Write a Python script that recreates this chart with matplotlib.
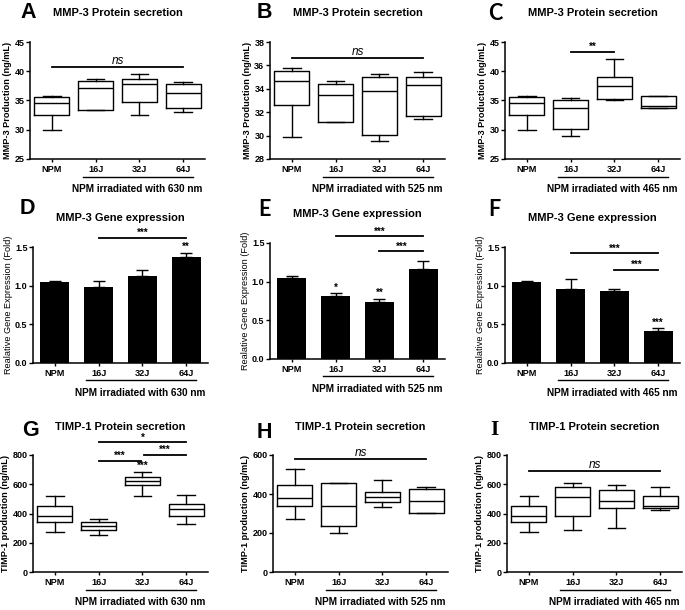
import matplotlib
matplotlib.use("Agg")
import matplotlib.pyplot as plt
import matplotlib.transforms as mtransforms

plt.rcParams['font.family'] = ['Liberation Sans', 'DejaVu Sans']

groups = ['NPM', '16J', '32J', '64J']
wavelengths = ['630', '525', '465']

# box stats per group: [whislo, q1, med, q3, whishi]
mmp3_630 = [[29.9, 32.6, 34.6, 35.6, 35.8], [33.4, 33.4, 37.2, 38.3, 38.7],
            [32.6, 34.7, 37.8, 38.7, 39.5], [33.1, 33.7, 36.3, 37.8, 38.1]]
mmp3_525 = [[29.9, 32.6, 34.7, 35.55, 35.8], [31.15, 31.2, 33.5, 34.45, 34.7],
            [29.5, 30.05, 33.85, 35.0, 35.3], [31.45, 31.65, 34.3, 35.05, 35.45]]
mmp3_465 = [[29.9, 32.6, 34.6, 35.6, 35.8], [29.0, 30.1, 33.8, 35.1, 35.5],
            [35.0, 35.2, 37.4, 39.1, 42.1], [33.7, 33.7, 34.0, 35.8, 35.8]]
timp1_630 = [[273, 341, 380, 448, 523], [252, 284, 316, 343, 361],
             [523, 598, 625, 652, 686], [330, 380, 430, 466, 527]]
timp1_525 = [[271, 341, 378, 447, 527], [200, 237, 339, 455, 458],
             [331, 361, 387, 409, 472], [302, 302, 365, 428, 438]]
timp1_465 = [[273, 341, 380, 448, 523], [289, 380, 511, 580, 611],
             [298, 436, 486, 561, 595], [425, 436, 452, 520, 580]]

# gene expression bars: mean and SEM (upper only)
gene_630 = [1.05, 0.98, 1.13, 1.365]
gene_630_err = [0.015, 0.085, 0.07, 0.06]
gene_525 = [1.045, 0.81, 0.737, 1.168]
gene_525_err = [0.022, 0.04, 0.04, 0.095]
gene_465 = [1.05, 0.96, 0.935, 0.415]
gene_465_err = [0.015, 0.13, 0.02, 0.035]

# significance bars: (x1, x2, y, label)
sig_a = [(0, 3, 40.7, 'ns')]
sig_b = [(0, 3, 36.6, 'ns')]
sig_c = [(1, 2, 43.35, '**')]
sig_d = [(1, 3, 1.62, '***')]
sig_e = [(1, 3, 1.586, '***'), (2, 3, 1.392, '***')]
sig_f = [(1, 3, 1.416, '***'), (2, 3, 1.20, '***')]
sig_g = [(1, 3, 886, '*'), (1, 1.97, 759, '***'), (2.03, 3, 800, '***')]
sig_h = [(0, 3, 580, 'ns')]
sig_i = [(0, 3, 693, 'ns')]

# stars over single groups: (x, y, label)
star_d = [(3, 1.44, '**')]
star_e = [(1, 0.86, '*'), (2, 0.79, '**')]
star_f = [(3, 0.46, '***')]
star_g = [(2, 695, '***')]

fig = plt.figure(figsize=(6.85, 6.1), dpi=100)
W, H = 685.0, 610.0


def make_ax(left_px, top_px, bottom_px, width_px=175):
    return fig.add_axes([left_px / W, 1 - bottom_px / H,
                         width_px / W, (bottom_px - top_px) / H])


def style(ax, ylim, yticks, ylabel, wl, ybold=True, fmt=None):
    ax.set_xlim(-0.5, 3.5)
    ax.set_ylim(*ylim)
    ax.set_yticks(yticks)
    if fmt:
        ax.set_yticklabels([fmt % t for t in yticks])
    ax.set_xticks(range(4))
    ax.set_xticklabels(groups, fontsize=6.6, fontweight='bold')
    for lab in ax.get_yticklabels():
        lab.set_fontsize(6.5)
        lab.set_fontweight('bold')
    ax.spines['top'].set_visible(False)
    ax.spines['right'].set_visible(False)
    ax.spines['left'].set_linewidth(1.1)
    ax.spines['bottom'].set_linewidth(1.1)
    ax.tick_params(axis='y', length=3, width=1.0, pad=1)
    ax.tick_params(axis='x', length=2.5, width=1.0, pad=1.5)
    ax.set_ylabel(ylabel, fontsize=6.6, fontweight='bold' if ybold else 'normal', labelpad=1.5)
    tr = mtransforms.blended_transform_factory(ax.transData, ax.transAxes)
    ax.plot([0.7, 3.22], [-0.15, -0.15], color='black', lw=1.0,
            transform=tr, clip_on=False)
    ax.text(1.96, -0.255, 'NPM irradiated with %s nm' % wl, transform=tr,
            ha='center', va='center', fontsize=7.2, fontweight='bold')


def add_sig(ax, sigs, stars=()):
    for x1, x2, y, lab in sigs:
        ax.plot([x1, x2], [y, y], color='black', lw=1.3, clip_on=False)
        if lab == 'ns':
            ax.text((x1 + x2) / 2, y, 'ns', ha='center', va='bottom',
                    fontsize=8.5, style='italic', clip_on=False)
        else:
            ax.text((x1 + x2) / 2, y, lab, ha='center', va='bottom',
                    fontsize=7, fontweight='bold', clip_on=False)
    for x, y, lab in stars:
        ax.text(x, y, lab, ha='center', va='bottom', fontsize=7,
                fontweight='bold', clip_on=False)


def boxes(ax, data):
    stats = []
    for g, (lo, q1, med, q3, hi) in zip(groups, data):
        stats.append(dict(label=g, whislo=lo, q1=q1, med=med, q3=q3,
                          whishi=hi, fliers=[]))
    ax.bxp(stats, positions=range(4), widths=0.8, showfliers=False,
           capwidths=0.4,
           boxprops=dict(color='black', lw=1.0),
           medianprops=dict(color='black', lw=1.0),
           whiskerprops=dict(color='black', lw=1.0),
           capprops=dict(color='black', lw=1.0))


def bars(ax, vals, errs):
    ax.bar(range(4), vals, width=0.66, color='black')
    ax.errorbar(range(4), vals, yerr=[[0] * 4, errs], fmt='none',
                ecolor='black', elinewidth=1.0, capsize=4, capthick=1.0)


def title(ax, text, y_px):
    pos = ax.get_position()
    fig.text(pos.x0 + pos.width / 2, 1 - y_px / H, text,
             ha='center', va='center', fontsize=8, fontweight='bold')


row_box1 = (42, 159)
row_box3 = (455, 572)
gene_ticks = [0.0, 0.5, 1.0, 1.5]

# row 1
axA = make_ax(30, *row_box1)
boxes(axA, mmp3_630)
style(axA, (25, 45), [25, 30, 35, 40, 45], 'MMP-3 Production (ng/mL)', wavelengths[0])
add_sig(axA, sig_a)
title(axA, 'MMP-3 Protein secretion', 13)

axB = make_ax(270, *row_box1)
boxes(axB, mmp3_525)
style(axB, (28, 38), [28, 30, 32, 34, 36, 38], 'MMP-3 Production (ng/mL)', wavelengths[1])
add_sig(axB, sig_b)
title(axB, 'MMP-3 Protein secretion', 13)

axC = make_ax(505, *row_box1)
boxes(axC, mmp3_465)
style(axC, (25, 45), [25, 30, 35, 40, 45], 'MMP-3 Production (ng/mL)', wavelengths[2])
add_sig(axC, sig_c)
title(axC, 'MMP-3 Protein secretion', 13)

# row 2
gene_label = 'Realative Gene Expression (Fold)'
axD = make_ax(33, 247, 363)
bars(axD, gene_630, gene_630_err)
style(axD, (0, 1.5), gene_ticks, gene_label, wavelengths[0], ybold=False, fmt='%.1f')
add_sig(axD, sig_d, star_d)
title(axD, 'MMP-3 Gene expression', 218)

axE = make_ax(270, 243, 359)
bars(axE, gene_525, gene_525_err)
style(axE, (0, 1.5), gene_ticks, gene_label, wavelengths[1], ybold=False, fmt='%.1f')
add_sig(axE, sig_e, star_e)
title(axE, 'MMP-3 Gene expression', 214)

axF = make_ax(505, 247, 363)
bars(axF, gene_465, gene_465_err)
style(axF, (0, 1.5), gene_ticks, gene_label, wavelengths[2], ybold=False, fmt='%.1f')
add_sig(axF, sig_f, star_f)
title(axF, 'MMP-3 Gene expression', 218)

# row 3
axG = make_ax(33, *row_box3)
boxes(axG, timp1_630)
style(axG, (0, 800), [0, 200, 400, 600, 800], 'TIMP-1 production (ng/mL)', wavelengths[0])
add_sig(axG, sig_g, star_g)
title(axG, 'TIMP-1 Protein secretion', 427)

axH = make_ax(273, *row_box3)
boxes(axH, timp1_525)
style(axH, (0, 600), [0, 200, 400, 600], 'TIMP-1 production (ng/mL)', wavelengths[1])
add_sig(axH, sig_h)
title(axH, 'TIMP-1 Protein secretion', 427)

axI = make_ax(507, *row_box3)
boxes(axI, timp1_465)
style(axI, (0, 800), [0, 200, 400, 600, 800], 'TIMP-1 production (ng/mL)', wavelengths[2])
add_sig(axI, sig_i)
title(axI, 'TIMP-1 Protein secretion', 427)

letters = [('A', 20, 13, 'Liberation Sans'), ('B', 257, 13, 'Liberation Sans'),
           ('C', 488, 13, 'Lato'), ('D', 20, 208, 'Liberation Sans'),
           ('E', 258, 210, 'Lato'), ('F', 488, 210, 'Lato'),
           ('G', 22, 430, 'Liberation Sans'), ('H', 257, 432, 'Liberation Sans'),
           ('I', 490, 430, 'Liberation Serif')]
for lab, x, y, fam in letters:
    fig.text(x / W, 1 - y / H, lab, ha='left', va='center', fontsize=15.5,
             fontweight='bold', family=fam)

fig.savefig('out.png', dpi=100)
